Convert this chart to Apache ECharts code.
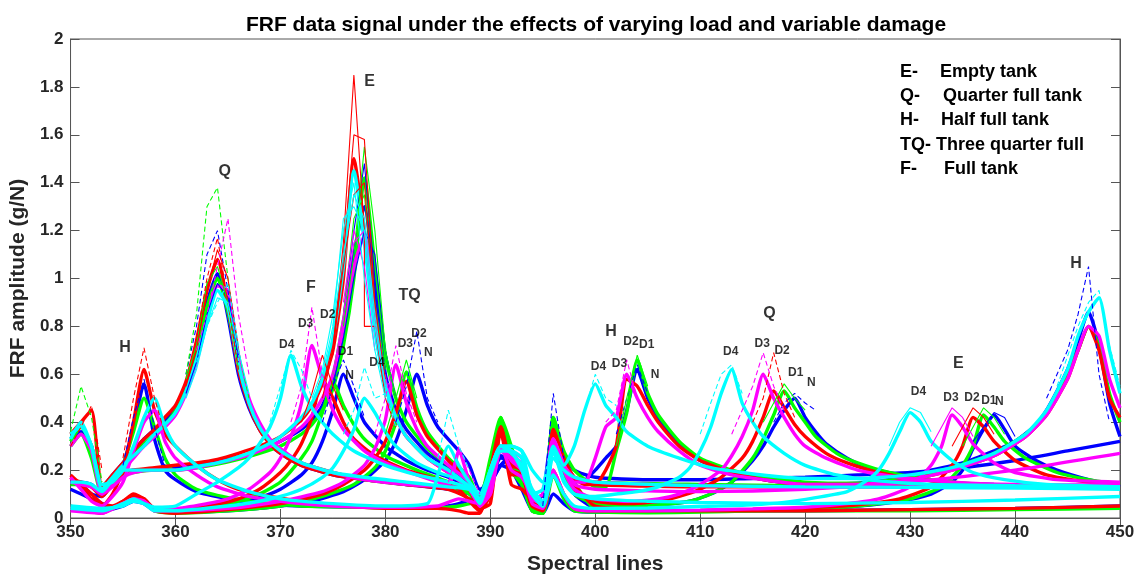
<!DOCTYPE html>
<html><head><meta charset="utf-8">
<script src="https://cdn.jsdelivr.net/npm/echarts@6/dist/echarts.min.js"></script>
<style>html,body{margin:0;padding:0;background:#fff}#c{width:1138px;height:580px}</style>
</head><body><div id="c"></div>
<script>
// ---------- Data (spectral line, FRF amplitude g/N) ----------
// Half full tank
const H_N=[[350,.16],[351,.14],[352,.1],[353,.09],[354,.15],[355,.22],[356,.38],[357,.56],[358,.33],[359,.2],[360,.16],[362,.11],[365,.08],[368,.06],[372,.05],[378,.045],[384,.04],[387,.06],[389,.1],[390,.2],[391,.26],[392,.24],[393,.22],[394,.1],[395,.03],[396,.3],[397,.2],[398,.17],[399,.16],[400,.2],[401,.25],[402,.3],[403,.45],[404,.62],[405,.5],[406,.42],[408,.31],[410,.24],[413,.19],[416,.16],[420,.14],[425,.145],[428,.16],[431,.19],[435,.23],[438,.28],[440,.32],[442,.39],[443,.45],[444,.53],[445,.62],[446,.74],[447,.86],[448,.72],[449,.48],[450,.34]];
const H_D1=[[350,.3],[351,.35],[352,.25],[353,.1],[354,.14],[355,.22],[356,.36],[357,.5],[358,.38],[359,.25],[360,.18],[362,.12],[365,.085],[368,.065],[372,.05],[378,.045],[384,.04],[387,.05],[389,.08],[390,.25],[391,.42],[392,.3],[393,.15],[394,.04],[395,.02],[396,.42],[397,.28],[398,.2],[399,.16],[400,.13],[401,.13],[402,.28],[403,.44],[404,.66],[405,.52],[406,.43],[408,.32],[410,.25],[413,.2],[416,.17],[420,.15],[425,.145],[430,.17],[434,.21],[438,.27],[441,.35],[443,.44],[445,.6],[446,.7],[447,.8],[448,.72],[449,.52],[450,.4]];
const H_D2=[[350,.17],[351,.13],[352,.08],[353,.05],[354,.1],[355,.2],[356,.4],[357,.62],[358,.45],[359,.35],[360,.3],[362,.22],[364,.16],[366,.12],[369,.09],[372,.07],[376,.05],[381,.04],[385,.04],[387,.03],[388,.02],[389,.02],[390,.2],[391,.38],[392,.22],[393,.2],[394,.06],[395,.05],[396,.37],[397,.25],[398,.17],[399,.14],[400,.14],[401,.2],[402,.3],[403,.58],[404,.55],[405,.47],[406,.4],[408,.3],[410,.24],[413,.19],[416,.16],[420,.14],[425,.14],[430,.16],[434,.2],[438,.26],[441,.34],[443,.43],[445,.58],[446,.7],[447,.8],[448,.7],[449,.5],[450,.42]];
const H_D3=[[350,.17],[351,.12],[352,.07],[353,.05],[354,.09],[355,.15],[356,.28],[357,.4],[358,.45],[359,.32],[360,.25],[362,.18],[364,.13],[367,.09],[370,.07],[375,.05],[380,.045],[385,.05],[387,.08],[389,.06],[390,.15],[391,.3],[392,.28],[393,.25],[394,.1],[395,.05],[396,.33],[397,.22],[398,.15],[399,.15],[400,.25],[401,.38],[402,.42],[403,.6],[404,.5],[405,.42],[406,.36],[408,.28],[410,.22],[413,.18],[416,.16],[420,.14],[425,.14],[430,.16],[434,.2],[438,.26],[441,.34],[443,.43],[445,.58],[446,.7],[447,.8],[448,.76],[449,.58],[450,.46]];
const H_D4=[[350,.33],[351,.4],[352,.3],[353,.14],[354,.15],[355,.2],[356,.3],[357,.42],[358,.5],[359,.38],[360,.3],[362,.22],[364,.16],[367,.11],[370,.08],[375,.06],[380,.05],[384,.06],[385,.18],[386,.3],[387,.22],[388,.15],[389,.1],[390,.2],[391,.3],[392,.3],[393,.28],[394,.2],[395,.15],[396,.3],[397,.22],[398,.3],[399,.45],[400,.56],[401,.47],[402,.42],[403,.36],[405,.3],[408,.25],[411,.21],[414,.19],[418,.17],[421,.165],[425,.165],[430,.18],[434,.21],[438,.27],[441,.35],[443,.45],[445,.62],[446,.76],[447,.86],[448,.92],[449,.7],[450,.52]];
// Quarter full tank
const Q_N=[[350,.33],[351,.36],[352,.3],[353,.13],[354,.18],[355,.23],[356,.28],[357,.33],[358,.37],[359,.41],[360,.46],[361,.56],[362,.72],[363,.9],[364,1.02],[365,.84],[366,.6],[367,.46],[368,.37],[369,.31],[370,.27],[372,.22],[375,.18],[378,.16],[382,.14],[386,.12],[388,.1],[389,.06],[390,.14],[391,.22],[392,.25],[393,.2],[394,.05],[395,.1],[396,.38],[397,.2],[398,.1],[400,.06],[403,.05],[406,.055],[409,.07],[411,.1],[413,.15],[415,.24],[416,.3],[417,.38],[418,.45],[419,.5],[420,.42],[421,.36],[422,.31],[424,.25],[426,.21],[429,.18],[433,.15],[438,.14],[444,.135],[450,.13]];
const Q_D1=[[350,.32],[351,.38],[352,.3],[353,.12],[354,.17],[355,.22],[356,.27],[357,.31],[358,.35],[359,.39],[360,.45],[361,.55],[362,.7],[363,.88],[364,1.0],[365,.86],[366,.63],[367,.48],[368,.38],[369,.32],[370,.28],[372,.23],[375,.19],[378,.16],[382,.14],[386,.13],[388,.1],[389,.05],[390,.2],[391,.4],[392,.25],[393,.15],[394,.03],[395,.02],[396,.4],[397,.2],[398,.1],[400,.06],[403,.05],[406,.055],[409,.07],[411,.1],[413,.15],[415,.25],[416,.33],[417,.43],[418,.53],[419,.46],[420,.4],[421,.34],[423,.27],[425,.23],[428,.19],[432,.16],[437,.14],[443,.135],[450,.13]];
const Q_D2=[[350,.35],[351,.4],[352,.45],[353,.13],[354,.18],[355,.23],[356,.28],[357,.33],[358,.37],[359,.42],[360,.47],[361,.57],[362,.74],[363,.95],[364,1.08],[365,.88],[366,.62],[367,.47],[368,.37],[369,.31],[370,.27],[372,.22],[375,.18],[378,.16],[382,.14],[386,.12],[388,.08],[389,.03],[390,.15],[391,.36],[392,.2],[393,.18],[394,.07],[395,.05],[396,.36],[397,.22],[398,.12],[400,.07],[403,.06],[406,.07],[408,.09],[410,.12],[412,.17],[414,.25],[415,.32],[416,.42],[417,.53],[418,.46],[419,.39],[420,.34],[422,.27],[424,.23],[427,.19],[431,.16],[436,.14],[443,.135],[450,.13]];
const Q_D3=[[350,.3],[351,.35],[352,.28],[353,.1],[354,.15],[355,.2],[356,.25],[357,.3],[358,.34],[359,.38],[360,.43],[361,.52],[362,.65],[363,.82],[364,.97],[365,.95],[366,.68],[367,.5],[368,.4],[369,.33],[370,.29],[372,.23],[375,.19],[378,.16],[382,.14],[386,.13],[388,.12],[389,.05],[390,.12],[391,.3],[392,.24],[393,.2],[394,.08],[395,.06],[396,.33],[397,.2],[398,.12],[400,.08],[403,.07],[406,.08],[408,.1],[410,.14],[412,.2],[413,.26],[414,.34],[415,.45],[416,.6],[417,.5],[418,.42],[419,.35],[420,.3],[422,.25],[425,.2],[429,.17],[434,.15],[440,.14],[450,.135]];
const Q_D4=[[350,.35],[351,.38],[352,.3],[353,.12],[354,.17],[355,.22],[356,.26],[357,.3],[358,.35],[359,.39],[360,.44],[361,.53],[362,.66],[363,.82],[364,.95],[365,.88],[366,.64],[367,.48],[368,.38],[369,.32],[370,.28],[372,.23],[375,.19],[378,.17],[382,.15],[384,.14],[386,.13],[388,.12],[389,.08],[390,.2],[391,.3],[392,.3],[393,.28],[394,.1],[395,.05],[396,.28],[397,.15],[398,.1],[400,.09],[402,.1],[404,.11],[406,.13],[408,.17],[409,.21],[410,.28],[411,.38],[412,.52],[413,.62],[414,.48],[415,.4],[416,.34],[418,.27],[420,.22],[423,.18],[427,.155],[432,.14],[440,.135],[450,.13]];
// Empty tank
const E_N=[[350,.15],[351,.15],[352,.14],[353,.1],[354,.15],[355,.19],[356,.2],[358,.2],[360,.21],[362,.22],[364,.235],[366,.255],[368,.28],[370,.32],[372,.37],[373,.41],[374,.47],[375,.58],[376,.8],[377,1.1],[378,1.3],[379,.95],[380,.6],[381,.45],[382,.37],[384,.27],[386,.21],[388,.14],[389,.08],[390,.17],[391,.22],[392,.2],[393,.12],[394,.03],[395,.02],[396,.1],[397,.06],[398,.03],[400,.025],[405,.025],[410,.028],[415,.032],[420,.037],[425,.05],[429,.07],[432,.1],[434,.15],[435,.2],[436,.29],[437,.37],[438,.43],[439,.37],[440,.3],[442,.24],[444,.2],[447,.16],[450,.13]];
const E_D1=[[350,.14],[351,.14],[352,.13],[353,.1],[354,.14],[355,.18],[356,.19],[358,.2],[360,.2],[362,.21],[364,.225],[366,.245],[368,.27],[370,.3],[372,.35],[373,.39],[374,.45],[375,.54],[376,.72],[377,1.0],[378,1.42],[379,1.05],[380,.68],[381,.5],[382,.4],[384,.29],[386,.22],[388,.15],[389,.08],[390,.2],[391,.4],[392,.2],[393,.14],[394,.03],[395,.02],[396,.18],[397,.08],[398,.03],[400,.025],[405,.022],[410,.025],[415,.03],[420,.035],[425,.05],[430,.08],[433,.13],[435,.22],[436,.3],[437,.43],[438,.38],[439,.32],[441,.25],[444,.19],[447,.16],[450,.14]];
const E_D2=[[350,.16],[351,.15],[352,.13],[353,.09],[354,.14],[355,.19],[356,.2],[358,.21],[360,.22],[362,.23],[364,.245],[366,.27],[368,.3],[370,.34],[372,.41],[373,.47],[374,.56],[375,.7],[376,1.0],[377,1.5],[378,1.2],[379,.8],[380,.55],[381,.42],[382,.34],[384,.25],[386,.19],[388,.12],[389,.03],[390,.15],[391,.38],[392,.2],[393,.18],[394,.05],[395,.03],[396,.2],[397,.1],[398,.04],[400,.03],[405,.03],[410,.032],[415,.036],[420,.042],[425,.055],[429,.08],[432,.13],[434,.22],[435,.3],[436,.42],[437,.38],[438,.32],[440,.24],[443,.18],[447,.15],[450,.14]];
const E_D3=[[350,.15],[351,.14],[352,.13],[353,.1],[354,.13],[355,.17],[356,.19],[358,.2],[360,.2],[362,.21],[364,.23],[366,.25],[368,.28],[370,.32],[372,.38],[373,.43],[374,.5],[375,.6],[376,.8],[377,1.05],[378,1.18],[379,.85],[380,.57],[381,.42],[382,.34],[384,.25],[386,.19],[388,.12],[389,.05],[390,.12],[391,.28],[392,.25],[393,.2],[394,.06],[395,.04],[396,.2],[397,.1],[398,.04],[400,.03],[405,.03],[410,.033],[415,.038],[420,.045],[424,.06],[427,.08],[430,.13],[432,.22],[433,.3],[434,.43],[435,.38],[436,.31],[438,.23],[440,.19],[444,.16],[450,.15]];
const E_D4=[[350,.15],[351,.15],[352,.14],[353,.11],[354,.16],[355,.2],[356,.2],[358,.2],[360,.2],[362,.215],[364,.23],[366,.255],[368,.29],[370,.34],[372,.42],[373,.48],[374,.58],[375,.75],[376,1.05],[377,1.45],[378,1.15],[379,.78],[380,.55],[381,.42],[382,.34],[384,.25],[386,.2],[388,.13],[389,.08],[390,.18],[391,.28],[392,.28],[393,.25],[394,.1],[395,.05],[396,.18],[397,.1],[398,.05],[400,.04],[405,.042],[410,.048],[415,.055],[418,.065],[421,.085],[424,.11],[426,.16],[427,.2],[428,.27],[429,.36],[430,.44],[431,.4],[432,.32],[434,.24],[436,.19],[439,.16],[443,.14],[450,.13]];
// Full tank
const F_N=[[350,.12],[351,.1],[352,.08],[353,.06],[354,.04],[355,.06],[356,.08],[357,.07],[358,.04],[360,.035],[363,.045],[366,.065],[368,.085],[370,.12],[372,.18],[373,.23],[374,.32],[375,.45],[376,.6],[377,.5],[378,.4],[380,.3],[382,.24],[384,.2],[386,.17],[388,.13],[389,.07],[390,.15],[391,.25],[392,.24],[393,.15],[394,.04],[395,.02],[396,.36],[397,.26],[398,.2],[400,.17],[405,.16],[410,.16],[415,.165],[420,.17],[425,.18],[430,.19],[435,.21],[440,.24],[445,.28],[450,.32]];
const F_D1=[[350,.04],[353,.035],[355,.06],[356,.08],[357,.07],[358,.035],[360,.03],[363,.045],[366,.07],[368,.1],[370,.15],[372,.25],[373,.32],[374,.44],[375,.57],[376,.47],[377,.39],[378,.33],[380,.26],[383,.2],[386,.15],[388,.11],[389,.05],[390,.15],[391,.42],[392,.2],[393,.14],[394,.04],[395,.02],[396,.42],[397,.25],[398,.17],[400,.15],[410,.14],[420,.135],[430,.135],[440,.13],[450,.13]];
const F_D2=[[350,.18],[351,.14],[352,.1],[353,.06],[354,.05],[355,.07],[356,.09],[357,.08],[358,.04],[360,.035],[363,.05],[366,.08],[368,.12],[370,.19],[371,.24],[372,.31],[373,.42],[374,.58],[375,.5],[376,.4],[377,.33],[379,.26],[382,.2],[385,.16],[387,.12],[389,.03],[390,.1],[391,.36],[392,.14],[393,.12],[394,.08],[395,.1],[396,.3],[397,.22],[398,.16],[400,.14],[410,.13],[420,.13],[430,.13],[440,.13],[450,.13]];
const F_D3=[[350,.04],[353,.03],[355,.06],[356,.08],[357,.07],[358,.04],[360,.04],[363,.06],[365,.08],[367,.12],[369,.19],[370,.25],[371,.34],[372,.48],[373,.72],[374,.58],[375,.45],[376,.37],[378,.28],[380,.23],[383,.18],[386,.14],[387,.28],[388,.15],[389,.05],[390,.1],[391,.3],[392,.2],[393,.17],[394,.1],[395,.05],[396,.33],[397,.22],[398,.17],[400,.15],[410,.135],[420,.13],[430,.13],[440,.135],[450,.14]];
const F_D4=[[350,.05],[353,.04],[355,.05],[356,.07],[357,.06],[358,.045],[360,.05],[362,.1],[364,.15],[366,.21],[367,.25],[368,.31],[369,.38],[370,.5],[371,.68],[372,.55],[373,.46],[374,.4],[375,.35],[377,.28],[380,.22],[383,.18],[385,.16],[387,.14],[388,.12],[389,.07],[390,.18],[391,.3],[392,.27],[393,.22],[394,.12],[395,.07],[396,.25],[397,.2],[398,.17],[400,.15],[410,.135],[420,.13],[430,.128],[440,.125],[450,.12]];
// Three quarter full tank
const TQ_N=[[350,.04],[353,.03],[355,.05],[356,.07],[357,.06],[358,.03],[360,.025],[365,.03],[370,.05],[373,.07],[376,.11],[378,.16],[380,.24],[381,.32],[382,.45],[383,.6],[384,.47],[385,.38],[387,.28],[388,.22],[389,.12],[390,.15],[391,.22],[392,.26],[393,.22],[394,.06],[395,.02],[396,.3],[397,.18],[398,.1],[400,.04],[405,.03],[410,.03],[420,.03],[430,.035],[440,.04],[450,.05]];
const TQ_D1=[[350,.04],[353,.03],[355,.06],[356,.08],[357,.07],[358,.03],[360,.02],[365,.03],[370,.05],[374,.09],[377,.14],[379,.21],[380,.28],[381,.4],[382,.61],[383,.46],[384,.36],[386,.25],[388,.17],[389,.07],[390,.1],[391,.41],[392,.22],[393,.17],[394,.03],[395,.02],[396,.4],[397,.25],[398,.15],[400,.04],[410,.03],[420,.03],[430,.03],[440,.035],[450,.04]];
const TQ_D2=[[350,.05],[353,.02],[355,.07],[356,.1],[357,.08],[358,.03],[360,.02],[365,.035],[370,.06],[374,.1],[376,.14],[378,.2],[379,.25],[380,.32],[381,.44],[382,.57],[383,.43],[384,.34],[386,.24],[388,.15],[389,.04],[390,.06],[391,.38],[392,.18],[393,.18],[394,.05],[395,.05],[396,.37],[397,.22],[398,.14],[400,.05],[405,.035],[410,.03],[420,.03],[430,.035],[440,.04],[450,.05]];
const TQ_D3=[[350,.03],[353,.02],[355,.06],[356,.08],[357,.07],[358,.03],[360,.03],[365,.04],[370,.07],[374,.11],[376,.15],[378,.22],[379,.29],[380,.41],[381,.64],[382,.48],[383,.37],[384,.3],[386,.22],[388,.15],[389,.08],[390,.1],[391,.28],[392,.27],[393,.22],[394,.08],[395,.1],[396,.33],[397,.22],[398,.14],[400,.12],[410,.11],[420,.12],[430,.15],[440,.2],[450,.27]];
const TQ_D4=[[350,.04],[353,.03],[355,.06],[356,.08],[357,.06],[358,.03],[360,.03],[365,.05],[368,.07],[370,.09],[372,.12],[374,.17],[375,.21],[376,.28],[377,.37],[378,.5],[379,.44],[380,.36],[381,.3],[383,.23],[385,.19],[387,.16],[388,.13],[389,.06],[390,.2],[391,.3],[392,.28],[393,.2],[394,.1],[395,.12],[396,.28],[397,.16],[398,.1],[400,.08],[405,.07],[410,.065],[420,.06],[430,.065],[440,.075],[450,.09]];

// Repeat measurements around resonance peaks
const V_E_R1=[[374,.5],[375,.7],[376,1.15],[377,1.85],[378,1.2],[378,.8],[379,.8],[380,.5],[381,.38]];
const V_E_R2=[[375,.68],[376,1.1],[377,1.6],[378,1.58],[379,.9],[380,.55]];
const V_E_R3=[[374,.55],[375,.72],[376,1.05],[377,1.35],[378,1.4],[379,.85],[380,.58]];
const V_E_G=[[376,.8],[377,1.1],[378,1.55],[379,1.2],[380,.7],[381,.5]];
const V_E_G2=[[375,.6],[376,.85],[377,1.25],[378,1.35],[379,.9],[380,.62]];
const V_E_B=[[376,.85],[377,1.2],[378,1.48],[379,1.0],[380,.6]];
const V_E_B2=[[375,.55],[376,.75],[377,1.0],[378,1.2],[379,1.1],[380,.7],[381,.5]];
const V_E_C=[[375,.8],[376,1.1],[377,1.35],[378,1.25],[379,.85],[380,.55]];
const V_E_C2=[[373,.5],[374,.62],[375,.85],[376,1.2],[377,1.4],[378,1.0],[379,.7],[380,.5]];
const V_E_C3=[[374,.6],[375,.8],[376,1.25],[377,1.3],[378,1.2],[379,.8],[380,.55]];
const V_E_M=[[376,.9],[377,1.2],[378,1.05],[379,.7]];
const V_E_M2=[[375,.6],[376,.85],[377,1.15],[378,1.2],[379,.8],[380,.55]];
const V_Q_G=[[361,.6],[362,.85],[363,1.3],[364,1.38],[365,1.0],[366,.7],[367,.5]];
const V_Q_G2=[[361,.58],[362,.72],[363,.98],[364,1.05],[365,.9],[366,.62]];
const V_Q_M=[[362,.7],[363,.85],[364,1.05],[365,1.25],[366,.85],[367,.6]];
const V_Q_B=[[361,.6],[362,.8],[363,1.1],[364,1.2],[365,.95],[366,.65]];
const V_Q_B2=[[361,.52],[362,.65],[363,.85],[364,.98],[365,.92],[366,.68]];
const V_Q_R=[[362,.75],[363,1.0],[364,1.17],[365,.9],[366,.62]];
const V_Q_R2=[[361,.55],[362,.7],[363,.95],[364,1.12],[365,1.0],[366,.7]];
const V_Q_C=[[362,.65],[363,.8],[364,.9],[365,.98],[366,.72]];
const V_Q_C2=[[361,.5],[362,.62],[363,.8],[364,.92],[365,.9],[366,.7],[367,.52]];
const V_F_M=[[371,.4],[372,.55],[373,.88],[374,.6],[375,.48]];
const V_F_C=[[369,.4],[370,.55],[371,.7],[372,.62],[373,.5]];
const V_F_B=[[374,.4],[375,.55],[376,.66],[377,.55],[378,.42]];
const V_F_R=[[372,.4],[373,.52],[374,.68],[375,.55],[376,.45]];
const V_TQ_B=[[381,.4],[382,.55],[383,.78],[384,.5],[385,.4]];
const V_TQ_M=[[379,.35],[380,.5],[381,.72],[382,.52],[383,.4]];
const V_TQ_C=[[376,.35],[377,.45],[378,.63],[379,.5],[380,.52],[381,.38]];
const V_TQ_G=[[380,.35],[381,.5],[382,.66],[383,.5]];
const V_H1_R=[[355,.25],[356,.5],[357,.71],[358,.5],[359,.35]];
const V_H1_B=[[355,.22],[356,.42],[357,.58],[358,.38],[359,.22]];
const V_A_G=[[350,.36],[351,.55],[352,.42],[353,.15]];
const V_A_R=[[350,.3],[351,.38],[352,.47],[353,.2]];
const V_C_B=[[395,.05],[396,.52],[397,.25]];
const V_C_C=[[385,.25],[386,.45],[387,.3],[388,.2]];
const V_C_M=[[386,.15],[387,.3],[388,.2],[389,.1]];
const V_H2_G=[[402,.3],[403,.5],[404,.68],[405,.55]];
const V_H2_M=[[401,.4],[402,.45],[403,.66],[404,.5]];
const V_H2_C=[[398,.3],[399,.45],[400,.6],[401,.5],[402,.47]];
const V_H2_B=[[402,.35],[403,.5],[404,.64],[405,.52]];
const V_Q2_M=[[413,.35],[414,.45],[415,.55],[416,.69],[417,.55],[418,.45]];
const V_Q2_R=[[415,.4],[416,.5],[417,.69],[418,.52],[419,.42]];
const V_Q2_C=[[410,.35],[411,.48],[412,.6],[413,.64],[414,.52]];
const V_Q2_G=[[416,.4],[417,.48],[418,.56],[419,.5],[420,.45]];
const V_Q2_B=[[417,.4],[418,.48],[419,.52],[420,.48],[421,.45]];
const V_E2_C=[[428,.3],[429,.4],[430,.46],[431,.44],[432,.36]];
const V_E2_M=[[432,.3],[433,.38],[434,.46],[435,.42],[436,.34]];
const V_E2_R=[[434,.3],[435,.38],[436,.46],[437,.42],[438,.35]];
const V_E2_G=[[435,.3],[436,.38],[437,.46],[438,.42],[439,.35]];
const V_E2_B=[[436,.32],[437,.38],[438,.44],[439,.42],[440,.34]];
const V_H3_B=[[443,.5],[445,.7],[446,.85],[447,1.05],[448,.6],[449,.4]];
const V_H3_C=[[444,.55],[446,.8],[447,.9],[448,.95],[449,.72],[450,.55]];

// Text labels placed at data coordinates
const loadLabels=[[355.2,.71,'H'],[364.7,1.447,'Q'],[378.5,1.822,'E'],[372.9,.964,'F'],[382.3,.927,'TQ'],[401.5,.777,'H'],[416.6,.852,'Q'],[434.6,.643,'E'],[445.8,1.064,'H']];
const damageLabels=[[372.4,.81,'D3'],[374.5,.847,'D2'],[370.6,.722,'D4'],[376.2,.693,'D1'],[376.6,.593,'N'],
 [379.2,.647,'D4'],[381.9,.726,'D3'],[383.2,.768,'D2'],[384.1,.689,'N'],
 [403.4,.735,'D2'],[404.9,.722,'D1'],[402.3,.643,'D3'],[400.3,.63,'D4'],[405.7,.597,'N'],
 [412.9,.693,'D4'],[415.9,.726,'D3'],[417.8,.697,'D2'],[419.1,.606,'D1'],[420.6,.564,'N'],
 [430.8,.527,'D4'],[433.9,.501,'D3'],[435.9,.501,'D2'],[437.5,.489,'D1'],[438.5,.485,'N']];
const legendKeys=['E-','Q-','H-','TQ- Three quarter full','F-'];
const legendTexts=['Empty tank','Quarter full tank','Half full tank','','Full tank'];

// ---------- Chart ----------
const B='#0000ff',G='#00ff00',R='#ff0000',M='#ff00ff',C='#00ffff';
const base=[
 [H_N,B],[Q_N,B],[E_N,B],[F_N,B],[TQ_N,B],
 [H_D1,G],[Q_D1,G],[E_D1,G],[F_D1,G],[TQ_D1,G],
 [H_D2,R],[Q_D2,R],[E_D2,R],[F_D2,R],[TQ_D2,R],
 [H_D3,M],[Q_D3,M],[E_D3,M],[F_D3,M],[TQ_D3,M],
 [H_D4,C],[Q_D4,C],[E_D4,C],[F_D4,C],[TQ_D4,C]];
const variants=[
 [V_E_B,B,'solid'],[V_E_B2,B,'solid'],[V_Q_B,B,'dashed'],[V_Q_B2,B,'solid'],[V_F_B,B,'dashed'],[V_TQ_B,B,'dashed'],[V_H1_B,B,'dashed'],[V_C_B,B,'dashed'],[V_H2_B,B,'dashed'],[V_Q2_B,B,'dashed'],[V_E2_B,B,'solid'],[V_H3_B,B,'dashed'],
 [V_E_G,G,'solid'],[V_E_G2,G,'solid'],[V_Q_G,G,'dashed'],[V_Q_G2,G,'solid'],[V_TQ_G,G,'solid'],[V_A_G,G,'dashed'],[V_H2_G,G,'solid'],[V_Q2_G,G,'solid'],[V_E2_G,G,'solid'],
 [V_E_R1,R,'solid'],[V_E_R2,R,'solid'],[V_E_R3,R,'solid'],[V_Q_R,R,'dashed'],[V_Q_R2,R,'solid'],[V_F_R,R,'solid'],[V_H1_R,R,'dashed'],[V_A_R,R,'dashed'],[V_Q2_R,R,'dashed'],[V_E2_R,R,'solid'],
 [V_E_M,M,'solid'],[V_E_M2,M,'solid'],[V_Q_M,M,'dashed'],[V_F_M,M,'dashed'],[V_TQ_M,M,'dashed'],[V_C_M,M,'dashed'],[V_H2_M,M,'dashed'],[V_Q2_M,M,'dashed'],[V_E2_M,M,'solid'],
 [V_E_C,C,'solid'],[V_E_C2,C,'solid'],[V_E_C3,C,'solid'],[V_Q_C,C,'dashed'],[V_Q_C2,C,'solid'],[V_F_C,C,'dashed'],[V_TQ_C,C,'dashed'],[V_C_C,C,'dashed'],[V_H2_C,C,'dashed'],[V_Q2_C,C,'dashed'],[V_E2_C,C,'solid'],[V_H3_C,C,'dashed']];

const series=[];
base.forEach(([d,c])=>series.push({type:'line',data:d,showSymbol:false,symbol:'none',silent:true,smooth:0.2,
  lineStyle:{color:c,width:3.4},itemStyle:{color:c}}));
variants.forEach(([d,c,t])=>series.push({type:'line',data:d,showSymbol:false,symbol:'none',silent:true,
  lineStyle:{color:c,width:1.1,type:t==='dashed'?[5,3]:'solid'},itemStyle:{color:c}}));
const FONT='"Liberation Sans", Arial, Helvetica, sans-serif';
series.push({type:'scatter',data:loadLabels,symbolSize:1,itemStyle:{color:'rgba(0,0,0,0)'},silent:true,z:5,
  label:{show:true,position:'inside',formatter:p=>p.value[2],color:'#000',fontSize:16,fontWeight:'bold',fontFamily:FONT}});
series.push({type:'scatter',data:damageLabels,symbolSize:1,itemStyle:{color:'rgba(0,0,0,0)'},silent:true,z:5,
  label:{show:true,position:'inside',formatter:p=>p.value[2],color:'#000',fontSize:12,fontWeight:'bold',fontFamily:FONT}});

const graphics=[{type:'text',x:596,y:25,style:{text:'FRF data signal under the effects of varying load and variable damage',
  fill:'#000',fontSize:21,fontWeight:'bold',fontFamily:FONT,align:'center',verticalAlign:'middle'}}];
const rowsY=[72,96,120,145,169];
const textX=[940,943,941,0,944];
legendKeys.forEach((k,i)=>{
  graphics.push({type:'text',x:900,y:rowsY[i],style:{text:k,fill:'#000',fontSize:18,fontWeight:'bold',fontFamily:FONT,verticalAlign:'middle'}});
  if(legendTexts[i]) graphics.push({type:'text',x:textX[i],y:rowsY[i],style:{text:legendTexts[i],fill:'#000',fontSize:18,fontWeight:'bold',fontFamily:FONT,verticalAlign:'middle'}});
});

const AX='#555';
const labelStyle={color:'#262626',fontSize:17,fontWeight:'bold',fontFamily:FONT};
const chart=echarts.init(document.getElementById('c'),null,{renderer:'canvas'});
chart.setOption({
  animation:false,backgroundColor:'#fff',
  grid:{left:70,right:18,top:39,bottom:61,show:true,borderColor:AX,borderWidth:1,backgroundColor:'transparent'},
  xAxis:[{type:'value',min:350,max:450,interval:10,position:'bottom',
     name:'Spectral lines',nameLocation:'middle',nameGap:36,nameTextStyle:{color:'#262626',fontSize:21,fontWeight:'bold',fontFamily:FONT},
     axisLine:{show:true,lineStyle:{color:AX}},axisTick:{inside:true,length:9,lineStyle:{color:AX}},
     axisLabel:Object.assign({margin:6},labelStyle),splitLine:{show:false}},
   {type:'value',min:350,max:450,interval:10,position:'top',axisLine:{show:true,lineStyle:{color:AX}},
     axisTick:{inside:true,length:9,lineStyle:{color:AX}},axisLabel:{show:false},splitLine:{show:false}}],
  yAxis:[{type:'value',min:0,max:2,interval:0.2,position:'left',
     name:'FRF amplitude (g/N)',nameLocation:'middle',nameGap:30,nameTextStyle:{color:'#262626',fontSize:21,fontWeight:'bold',fontFamily:FONT},
     axisLine:{show:true,lineStyle:{color:AX}},axisTick:{inside:true,length:9,lineStyle:{color:AX}},
     axisLabel:Object.assign({margin:7},labelStyle),splitLine:{show:false}},
   {type:'value',min:0,max:2,interval:0.2,position:'right',axisLine:{show:true,lineStyle:{color:AX}},
     axisTick:{inside:true,length:9,lineStyle:{color:AX}},axisLabel:{show:false},splitLine:{show:false}}],
  graphic:graphics,
  series:series
});
</script></body></html>
